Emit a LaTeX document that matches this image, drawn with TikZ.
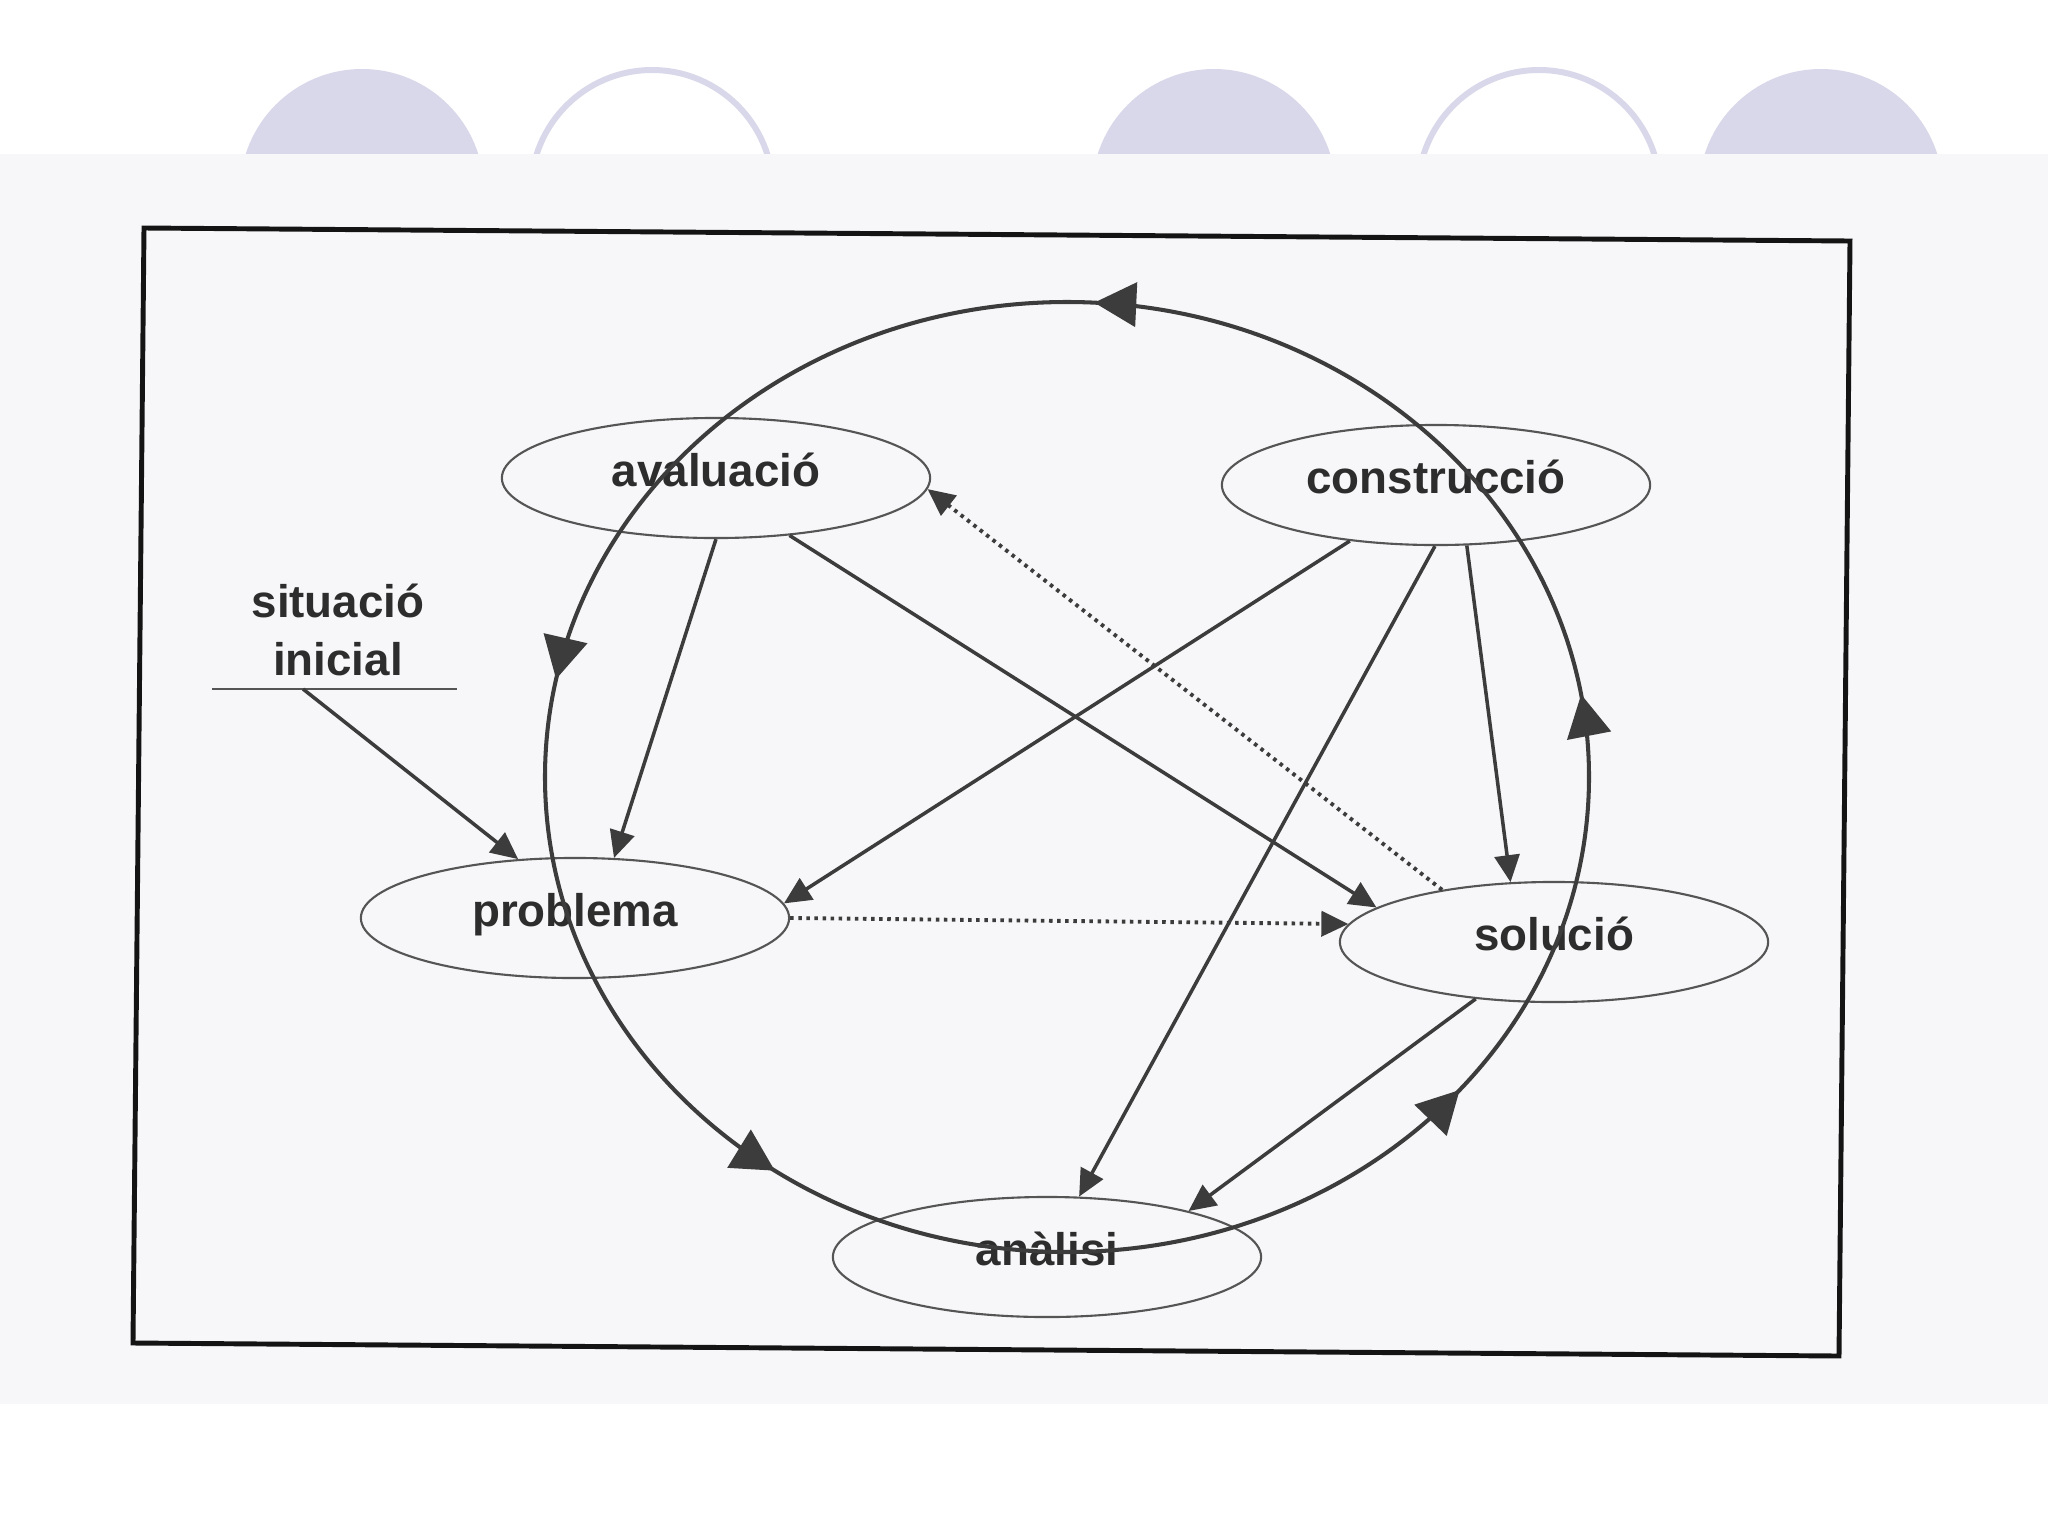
\documentclass[tikz,border=0pt]{standalone}
\usepackage{fontspec}
\setmainfont{Liberation Sans}
\usetikzlibrary{arrows.meta,shapes.geometric,decorations.markings}

\definecolor{lila}{RGB}{217,216,234}
\definecolor{fons}{RGB}{247,247,249}
\definecolor{tinta}{RGB}{60,60,60}
\definecolor{vora}{RGB}{85,85,85}
\definecolor{lletra}{RGB}{45,45,45}
\definecolor{marc}{RGB}{20,20,20}

\begin{document}
\begin{tikzpicture}[x=0.01cm, y=-0.01cm,
    etiqueta/.style={text=lletra, font=\bfseries\fontsize{13}{16.4}\selectfont},
    fase/.style={etiqueta, ellipse, draw=vora, line width=0.6pt, inner sep=0pt,
        minimum width=4.28cm, minimum height=1.2cm,
        text height=7pt, text depth=1.9pt},
    fletxa/.style={draw=tinta, line width=1pt, -{Triangle[length=2.7mm,width=2.5mm]}},
    puntejada/.style={fletxa, line width=1.1pt, dash pattern=on 1pt off 1.3pt},
    anell/.style={draw=tinta, line width=1.15pt, postaction={decorate},
        decoration={markings,
            mark=at position 0.0265 with {\arrow{Triangle[length=4.2mm,width=4.4mm]}},
            mark=at position 0.2413 with {\arrow{Triangle[length=4.2mm,width=4.4mm]}},
            mark=at position 0.4685 with {\arrow{Triangle[length=4.2mm,width=4.4mm]}},
            mark=at position 0.6520 with {\arrow{Triangle[length=4.2mm,width=4.4mm]}},
            mark=at position 0.8892 with {\arrow{Triangle[length=4.2mm,width=4.4mm]}}}}]

    % Fons
    \useasboundingbox (0,0) rectangle (2048,1536);
    \fill[white] (0,0) rectangle (2048,1536);

    % Cercles de dalt
    \foreach \cx in {362, 1214, 1821}
        \fill[lila] (\cx,191) circle [radius=122];
    \foreach \cx in {652, 1539}
        \draw[lila, line width=1.7pt] (\cx,191) circle [radius=121];

    % Banda grisa
    \fill[fons] (0,154) rectangle (2048,1404);

    % Marc
    \draw[marc, line width=1.4pt] (144,228) -- (1850,241) -- (1839,1356) -- (133,1343) -- cycle;

    % Fases
    \node[fase] (aval) at (716,478) {avaluació};
    \node[fase] (constr) at (1436,485) {construcció};
    \node[fase] (prob) at (575,918) {problema};
    \node[fase] (sol) at (1554,942) {solució};
    \node[fase] (anal) at (1047,1257) {anàlisi};

    % Situacio inicial
    \node[etiqueta, align=center] (sit) at (338,630) {situació\\inicial};
    \coordinate (sitbase) at (303,689);
    \draw[vora, line width=0.6pt] (212,689) -- (457,689);
    \draw[fletxa] (sitbase) -- (prob.134);

    % Cercle gran
    \draw[anell] (1589,777) arc [start angle=0, end angle=-360, x radius=522, y radius=475];

    % Fletxes
    \draw[fletxa] (aval.270) -- (prob.57);
    \draw[fletxa] (aval.-38) -- (sol.169);
    \draw[fletxa] (constr.213) -- (prob.4);
    \draw[fletxa] (constr.-91) -- (anal.62);
    \draw[fletxa] (constr.-63) -- (sol.126);
    \draw[fletxa] (sol.216) -- (anal.18);

    % Fletxes puntejades
    \draw[puntejada] (sol.155) -- (aval.-3);
    \draw[puntejada] (prob.0) -- (sol.175);

\end{tikzpicture}
\end{document}
